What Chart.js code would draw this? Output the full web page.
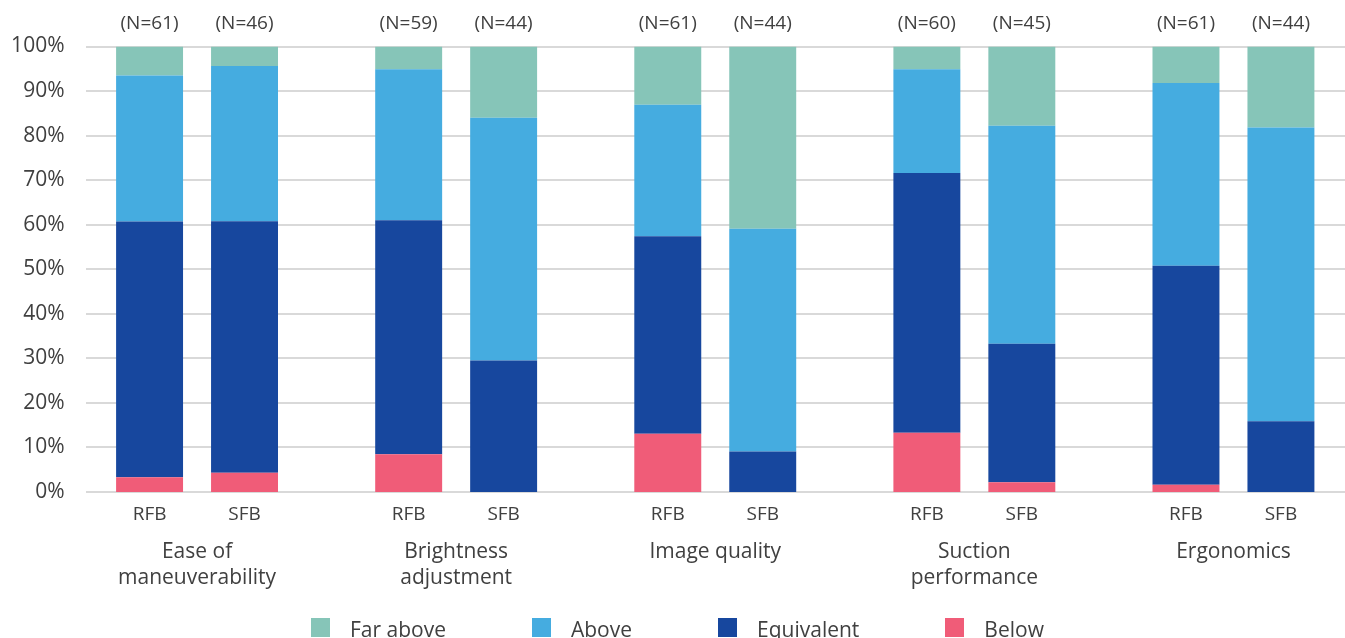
<!DOCTYPE html>
<html>
<head>
<meta charset="utf-8">
<script src="https://cdn.jsdelivr.net/npm/chart.js@4.4.1/dist/chart.umd.min.js"></script>
<style>
  html, body { margin: 0; padding: 0; background: #fff; overflow: hidden; }
  #wrap { position: relative; width: 1363px; height: 638px; }
  #legend { position: absolute; left: 311px; top: 618px; display: flex; font-family: "Open Sans", sans-serif; font-size: 21px; color: #404040; }
  #legend .item { display: flex; align-items: flex-start; margin-right: 86px; }
  #legend .box { width: 19px; height: 19px; margin-right: 20px; }
  #legend .txt { line-height: 19px; margin-top: 2px; }
</style>
</head>
<body>
<div id="wrap">
  <canvas id="mycanvas"></canvas>
  <div id="legend"></div>
</div>
<script>
// categories and series (percent of respondents)
var categories = [['Ease of', 'maneuverability'], ['Brightness', 'adjustment'], ['Image quality'], ['Suction', 'performance'], ['Ergonomics']];
var groups = ['RFB', 'SFB'];
var nRFB = [61, 59, 61, 60, 61];
var nSFB = [46, 44, 44, 45, 44];

var belowRFB = [3.3, 8.5, 13.1, 13.3, 1.6];
var belowSFB = [4.3, 0, 0, 2.2, 0];
var equivRFB = [57.4, 52.5, 44.3, 58.3, 49.2];
var equivSFB = [56.5, 29.5, 9.1, 31.1, 15.9];
var aboveRFB = [32.8, 33.9, 29.5, 23.3, 41.0];
var aboveSFB = [34.8, 54.5, 50.0, 48.9, 65.9];
var farRFB = [6.5, 5.1, 13.1, 5.1, 8.2];
var farSFB = [4.4, 16.0, 40.9, 17.8, 18.2];

var yTicks = [0, 10, 20, 30, 40, 50, 60, 70, 80, 90, 100];

var colFar = '#86C5B8';
var colAbove = '#45ACE0';
var colEquiv = '#17479E';
var colBelow = '#F05C78';

Chart.defaults.font.family = '"Open Sans", sans-serif';
Chart.defaults.color = '#404040';

function ds(label, data, stack, color) {
  return { label: label, data: data, stack: stack, backgroundColor: color, borderWidth: 0 };
}

var chartdata = {
  labels: categories,
  datasets: [
    ds('Below', belowRFB, 'RFB', colBelow),
    ds('Below', belowSFB, 'SFB', colBelow),
    ds('Equivalent', equivRFB, 'RFB', colEquiv),
    ds('Equivalent', equivSFB, 'SFB', colEquiv),
    ds('Above', aboveRFB, 'RFB', colAbove),
    ds('Above', aboveSFB, 'SFB', colAbove),
    ds('Far above', farRFB, 'RFB', colFar),
    ds('Far above', farSFB, 'SFB', colFar)
  ]
};

// gridlines start a bit right of the tick labels, like the original
var gridPlugin = {
  id: 'gridInset',
  beforeDatasetsDraw: function(chart) {
    var ctx = chart.ctx, y = chart.scales.y, area = chart.chartArea;
    ctx.save();
    ctx.strokeStyle = '#d9d9d9';
    ctx.lineWidth = 2;
    yTicks.forEach(function(v) {
      var py = Math.round(y.getPixelForValue(v));
      ctx.beginPath();
      ctx.moveTo(86, py);
      ctx.lineTo(area.right, py);
      ctx.stroke();
    });
    ctx.restore();
  }
};

// RFB / SFB under the bars and (N=..) above them
var barLabels = {
  id: 'barLabels',
  afterDatasetsDraw: function(chart) {
    var ctx = chart.ctx, area = chart.chartArea;
    var counts = [nRFB, nSFB];
    ctx.save();
    ctx.fillStyle = '#404040';
    ctx.textAlign = 'center';
    ctx.textBaseline = 'middle';
    ctx.font = '19px "Open Sans", sans-serif';
    [0, 1].forEach(function(g) {
      var meta = chart.getDatasetMeta(g);
      meta.data.forEach(function(bar, i) {
        ctx.fillText(groups[g], bar.x, area.bottom + 23);
        ctx.fillText('(N=' + counts[g][i] + ')', bar.x, area.top - 23);
      });
    });
    ctx.restore();
  }
};

var htmlLegend = {
  id: 'htmlLegend',
  afterUpdate: function(chart) {
    var box = document.getElementById('legend');
    box.innerHTML = '';
    var seen = {};
    chart.data.datasets.slice().reverse().forEach(function(d) {
      if (seen[d.label]) return;
      seen[d.label] = true;
      var item = document.createElement('div');
      item.className = 'item';
      var sw = document.createElement('div');
      sw.className = 'box';
      sw.style.background = d.backgroundColor;
      var t = document.createElement('div');
      t.className = 'txt';
      t.textContent = d.label;
      item.appendChild(sw);
      item.appendChild(t);
      box.appendChild(item);
    });
  }
};

var ctx = document.getElementById('mycanvas');

var BarGraph = new Chart(ctx, {
  type: 'bar',
  data: chartdata,
  plugins: [gridPlugin, barLabels, htmlLegend],
  options: {
    responsive: true,
    maintainAspectRatio: false,
    animation: false,
    layout: { padding: { top: 46.5, right: 0, bottom: 0, left: 0 } },
    datasets: { bar: { categoryPercentage: 0.733, barPercentage: 0.705 } },
    plugins: { legend: { display: false }, tooltip: { enabled: false } },
    scales: {
      x: {
        stacked: true,
        grid: { display: false, drawTicks: false },
        border: { display: false },
        ticks: { font: { size: 21, lineHeight: 1.25 }, padding: 47, maxRotation: 0, autoSkip: false, color: '#404040' },
        afterFit: function(s) { s.height = 146; }
      },
      y: {
        stacked: true,
        min: 0,
        max: 100,
        grid: { display: false, drawTicks: false },
        border: { display: false },
        ticks: {
          stepSize: 10,
          padding: 3,
          font: { size: 21 },
          color: '#404040',
          callback: function(v) { return v + '%'; }
        },
        afterFit: function(s) { s.width = 67.5; }
      }
    }
  }
});
</script>
</body>
</html>
